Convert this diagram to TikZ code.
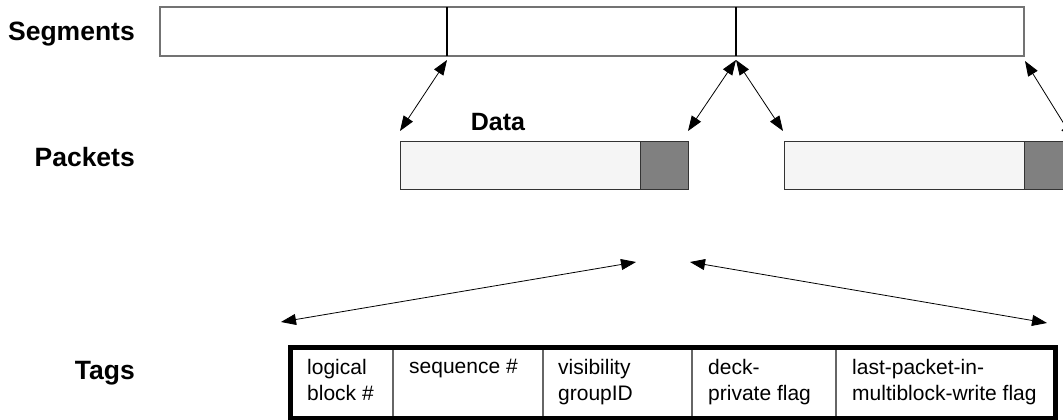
\documentclass[tikz,border=0pt]{standalone}
\usepackage{fontspec}
\setmainfont{Liberation Sans}
\usetikzlibrary{arrows.meta}
\begin{document}
\begin{tikzpicture}[x=1pt,y=-1pt,
  lbl/.style={font=\fontsize{26.5}{30}\selectfont\bfseries, anchor=base east, inner sep=0},
  dbl/.style={{Triangle[length=15pt,width=11pt]}-{Triangle[length=15pt,width=11pt]}, line width=0.8pt},
  tagtxt/.style={font=\fontsize{21}{26}\selectfont, anchor=north west, align=left, inner sep=0},
  box/.style={anchor=north west, inner sep=0, outer sep=0},
  pkt/.style={box, draw=black!80, line width=1pt, fill=black!4, minimum height=48pt},
  tagsep/.style={draw=black!60, line width=1.5pt},
]
\useasboundingbox (0,0) rectangle (1063,420);
\begin{scope}
\clip (0,0) rectangle (1063,420);
% labels
\node[lbl] (lseg) at (135,41) {Segments};
\node[lbl] (lpkt) at (135,166) {Packets};
\node[lbl] (ltag) at (135,379) {Tags};
\node[font=\fontsize{25}{28}\selectfont\bfseries, anchor=base, inner sep=0] (ldata) at (498,130) {Data};
% segments
\node[box, draw=black!55, line width=1.5pt, minimum width=864pt, minimum height=49pt] (seg) at (160,7) {};
\draw[line width=1.5pt] (447,7) -- (447,56);
\draw[line width=1.5pt] (736,7) -- (736,56);
\coordinate (s1) at (447,60);
\coordinate (s2) at (736,60);
\coordinate (s3) at (1025,61);
% packets
\node[pkt, minimum width=288pt] (p1) at (400,141) {};
\node[pkt, fill=black!50, minimum width=48pt] (t1) at (640,141) {};
\node[pkt, minimum width=330pt] (p2) at (784,141) {};
\node[pkt, fill=black!50, minimum width=48pt] (t2) at (1024,141) {};
\coordinate (p1a) at (400,131);
\coordinate (p1b) at (688,131);
\coordinate (p2a) at (783,131);
\coordinate (p2b) at (1074,140);
\coordinate (tl) at (636,262);
\coordinate (tr) at (690,262);
\coordinate (gl) at (281,322);
\coordinate (gr) at (1047,323);
% arrows
\draw[dbl] (s1) -- (p1a);
\draw[dbl] (s2) -- (p1b);
\draw[dbl] (s2) -- (p2a);
\draw[dbl] (s3) -- (p2b);
\draw[dbl] (tl) -- (gl);
\draw[dbl] (tr) -- (gr);
% tags
\node[box, minimum width=765pt, minimum height=71pt] (tags) at (290,347) {};
\draw[tagsep] (393,347) -- (393,418);
\draw[tagsep] (543,347) -- (543,418);
\draw[tagsep] (692,347) -- (692,418);
\draw[tagsep] (836,347) -- (836,418);
\draw[line width=5pt] (tags.north west) rectangle (tags.south east);
\node[tagtxt] (c1) at (307,359) {logical\\block \#};
\node[tagtxt] (c2) at (409,359) {sequence \#};
\node[tagtxt] (c3) at (558,359) {visibility\\groupID};
\node[tagtxt] (c4) at (708,359) {deck-\\private flag};
\node[tagtxt] (c5) at (852,359) {last-packet-in-\\multiblock-write flag};
\end{scope}
\end{tikzpicture}
\end{document}
